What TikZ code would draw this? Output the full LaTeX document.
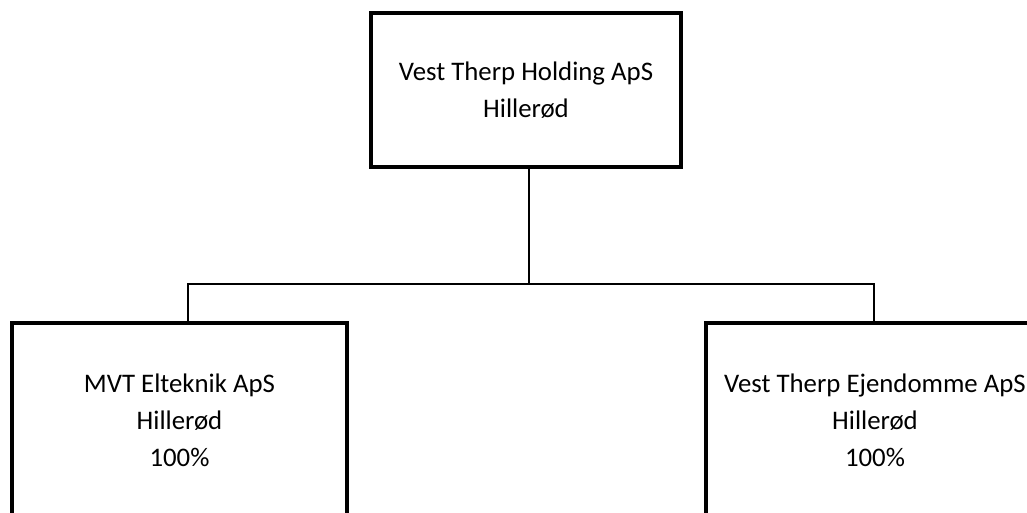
\documentclass[tikz,border=0pt]{standalone}
\usepackage{fontspec}
\setmainfont{Carlito}
\begin{document}
\begin{tikzpicture}[x=1pt,y=-1pt,
  orgbox/.style={draw=black,line width=3.2pt,align=center,inner sep=0pt,
    font=\fontsize{26.8}{37}\selectfont},
  link/.style={draw=black,line width=2.8pt}]
\useasboundingbox (0,0) rectangle (1027,512);
\clip (0,0) rectangle (1027,512);
\node[orgbox,minimum width=310pt,minimum height=154pt] (top) at (526,90)
  {Vest Therp Holding ApS\\Hillerød};
\node[orgbox,minimum width=335pt,minimum height=194pt] (left) at (179.5,420)
  {MVT Elteknik ApS\\Hillerød\\100\%};
\node[orgbox,minimum width=338pt,minimum height=194pt] (right) at (875,420)
  {Vest Therp Ejendomme ApS\\Hillerød\\100\%};
\coordinate (jl) at (188,284);
\coordinate (jr) at (874,284);
\coordinate (jm) at (529,284);
\draw[link] ([xshift=3pt]top.south) -- (jm);
\draw[link] (left.north -| jl) -- (jl) -- (jr) -- (right.north -| jr);
\end{tikzpicture}
\end{document}
